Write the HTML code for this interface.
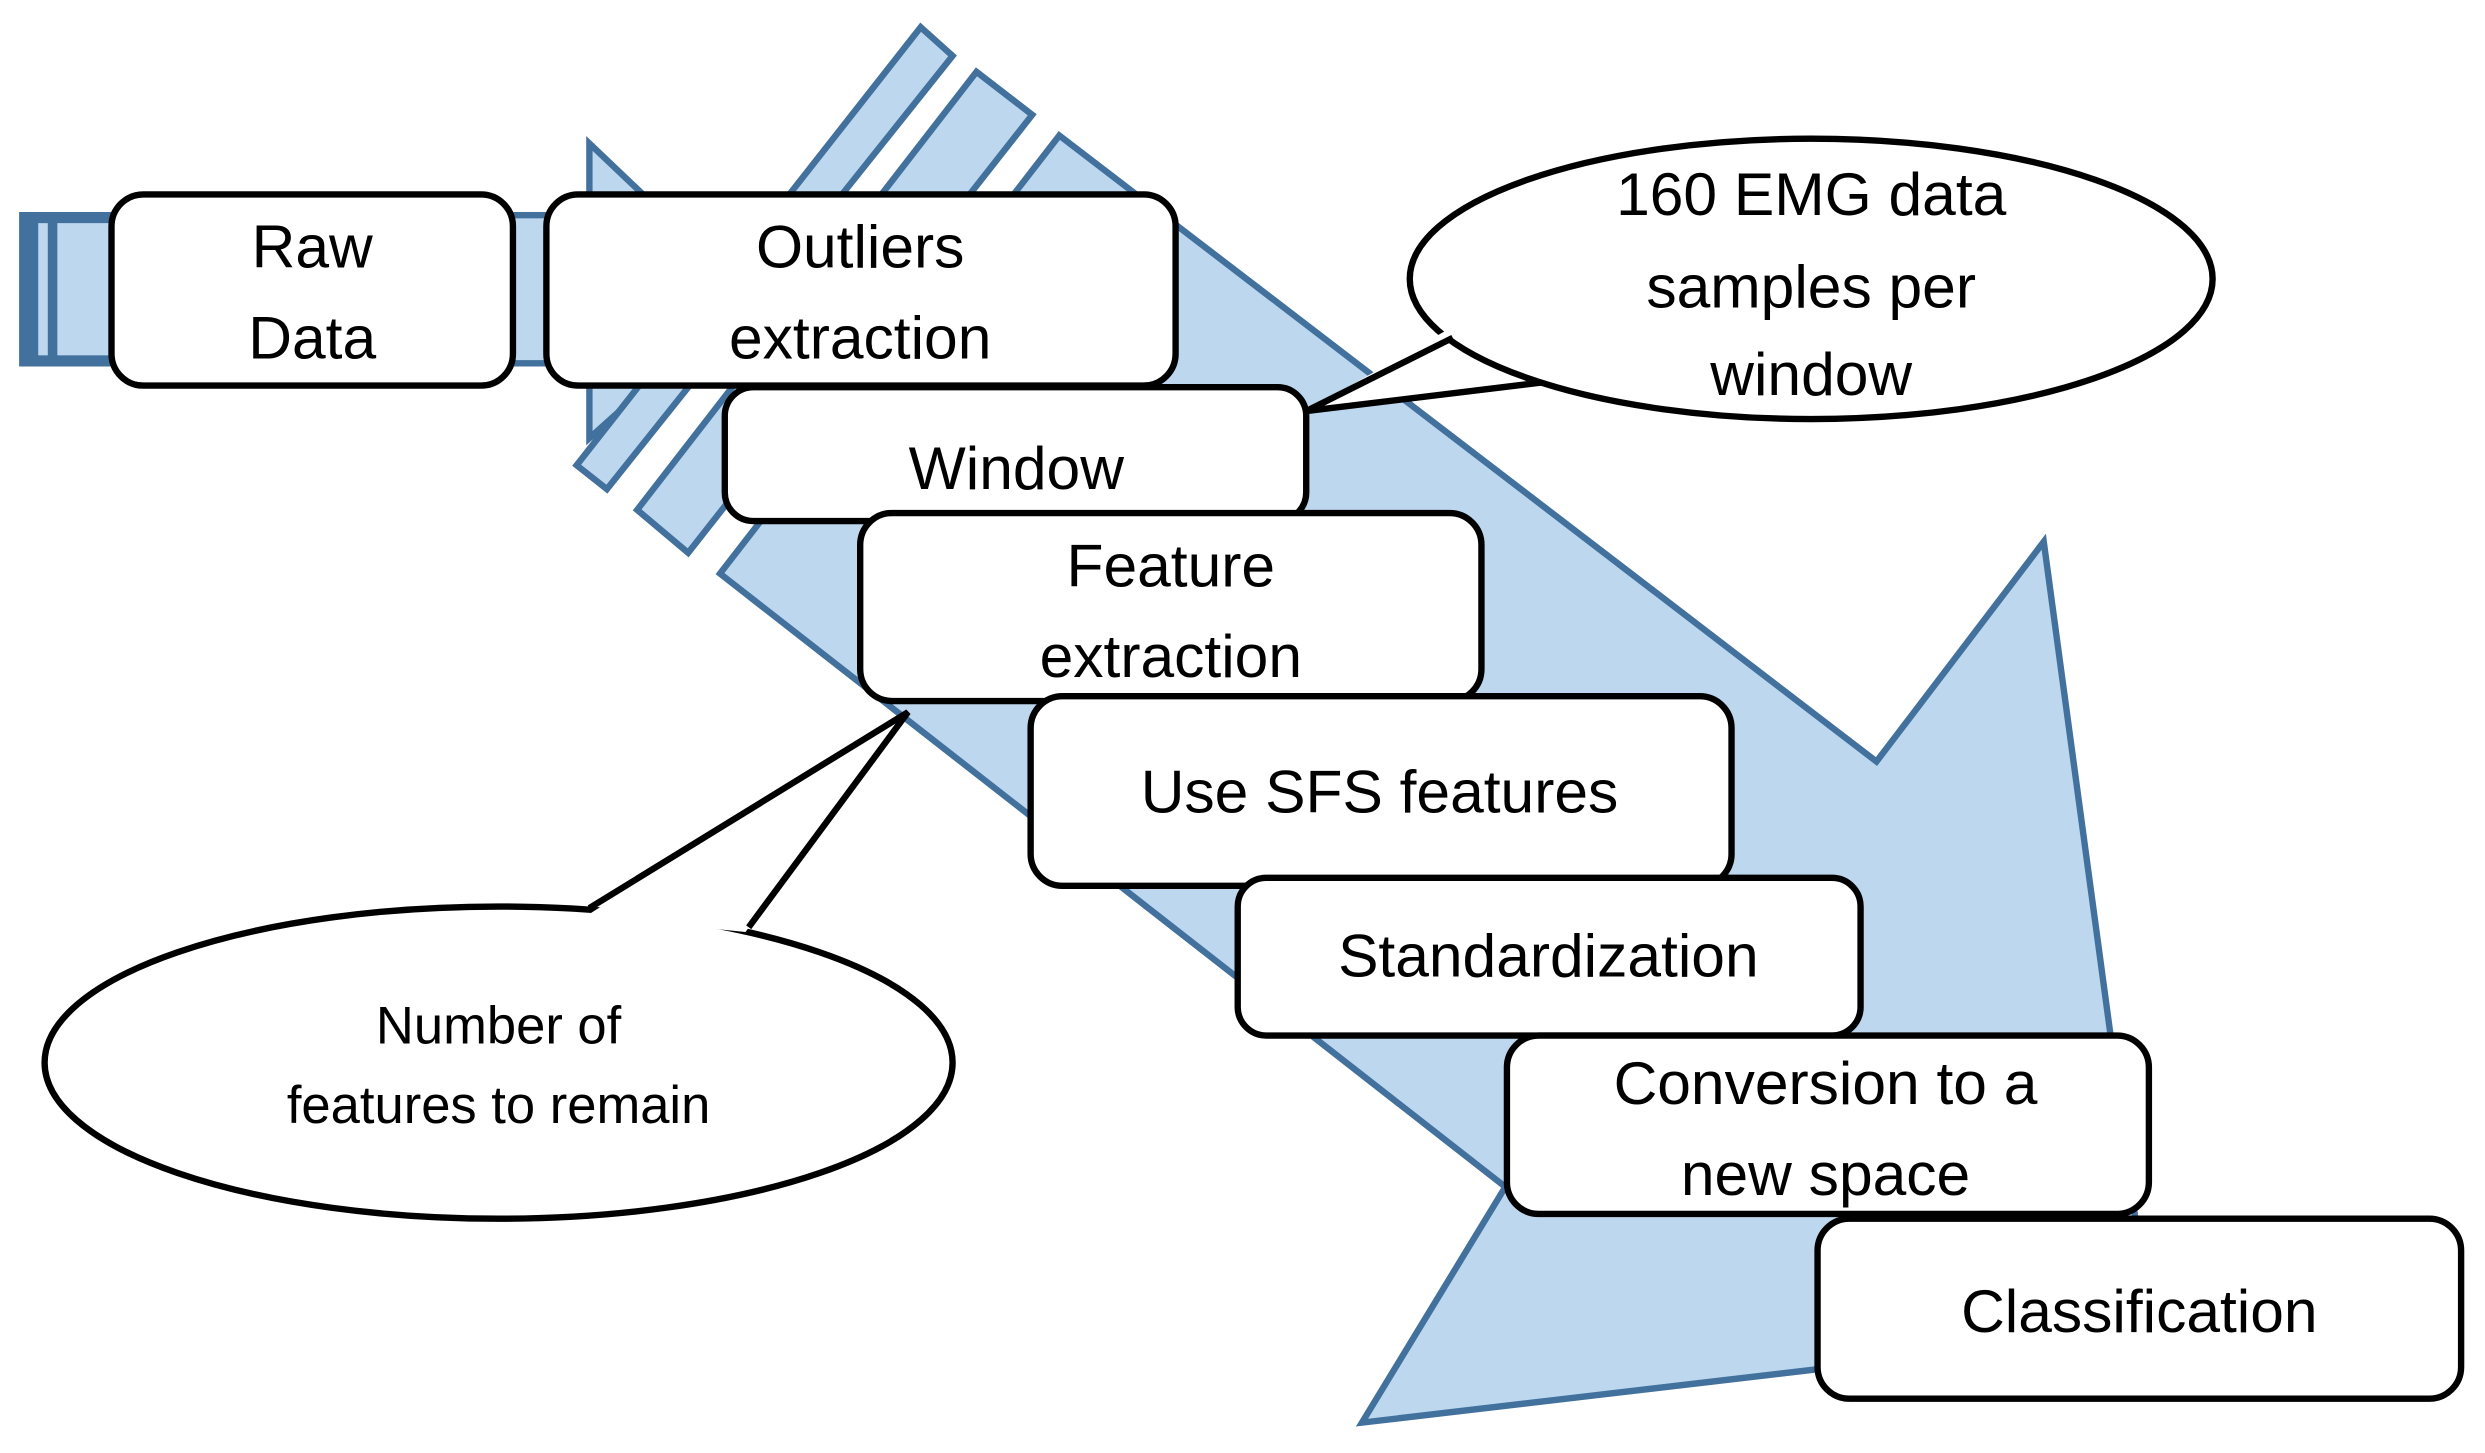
<!DOCTYPE html>
<html><head><meta charset="utf-8"><style>
html,body{margin:0;padding:0;background:#fff;}
svg{display:block;}
text{font-family:"Liberation Sans",sans-serif;fill:#000;text-anchor:middle;}
</style></head><body>
<svg width="2485" height="1453" viewBox="0 0 1560 912" xmlns="http://www.w3.org/2000/svg">
<rect width="1560" height="912" fill="#fff"/>
<g fill="#bdd7ee" stroke="#41719c" stroke-width="4" stroke-linejoin="miter">
  <!-- left horizontal bar -->
  <rect x="12" y="133" width="70" height="97" fill="#41719c" stroke="none"/>
  <rect x="24" y="140" width="6" height="83" fill="#bdd7ee" stroke="none"/>
  <rect x="36" y="140" width="40" height="83" fill="#bdd7ee" stroke="none"/>
  <rect x="318" y="135" width="30" height="93" fill="#bdd7ee"/>
  <!-- small right arrow -->
  <polygon points="370,90 470,185 370,275"/>
  <!-- stripes -->
  <polygon points="578,17 598,35 381,307 362,292"/>
  <polygon points="613,45 648,72 432,347 400,320"/>
  <!-- main arrow -->
  <polygon points="665,85 1178,478 1283,340 1350,835 855,893 945,745 452,360"/>
</g>
<g fill="#fff" stroke="#000" stroke-width="4">
  <rect x="70" y="122" width="252" height="120" rx="20"/>
  <rect x="343" y="122" width="395" height="120" rx="20"/>
  <rect x="455" y="243" width="365" height="84" rx="18"/>
  <rect x="540" y="322" width="390" height="118" rx="20"/>
  <rect x="647" y="437" width="440" height="119" rx="20"/>
  <rect x="777" y="551" width="391" height="99" rx="18"/>
  <rect x="946" y="650" width="403" height="112" rx="20"/>
  <rect x="1141" y="765" width="404" height="113" rx="20"/>
  <ellipse cx="1137" cy="175" rx="252" ry="88"/>
  <ellipse cx="313" cy="667" rx="285" ry="98"/>
</g>
<polygon points="912,205 820,258 968,238 960,250 905,225" fill="#fff"/>
<polyline points="912,212 820,258 968,240" fill="none" stroke="#000" stroke-width="4"/>
<polygon points="368,575 570,447 468,585" fill="#fff"/>
<polyline points="370,570 570,447 470,582" fill="none" stroke="#000" stroke-width="4"/>
<g font-size="38">
  <text x="196" y="168">Raw</text>
  <text x="196" y="225">Data</text>
  <text x="540" y="168">Outliers</text>
  <text x="540" y="225">extraction</text>
  <text x="638" y="307">Window</text>
  <text x="735" y="368">Feature</text>
  <text x="735" y="425">extraction</text>
  <text x="866" y="510">Use SFS features</text>
  <text x="972" y="613">Standardization</text>
  <text x="1146" y="693">Conversion to a</text>
  <text x="1146" y="750">new space</text>
  <text x="1343" y="836">Classification</text>
  <text x="1137" y="135">160 EMG data</text>
  <text x="1137" y="193">samples per</text>
  <text x="1137" y="248">window</text>
</g>
<g font-size="33">
  <text x="313" y="655">Number of</text>
  <text x="313" y="705">features to remain</text>
</g>
</svg>
</body></html>
